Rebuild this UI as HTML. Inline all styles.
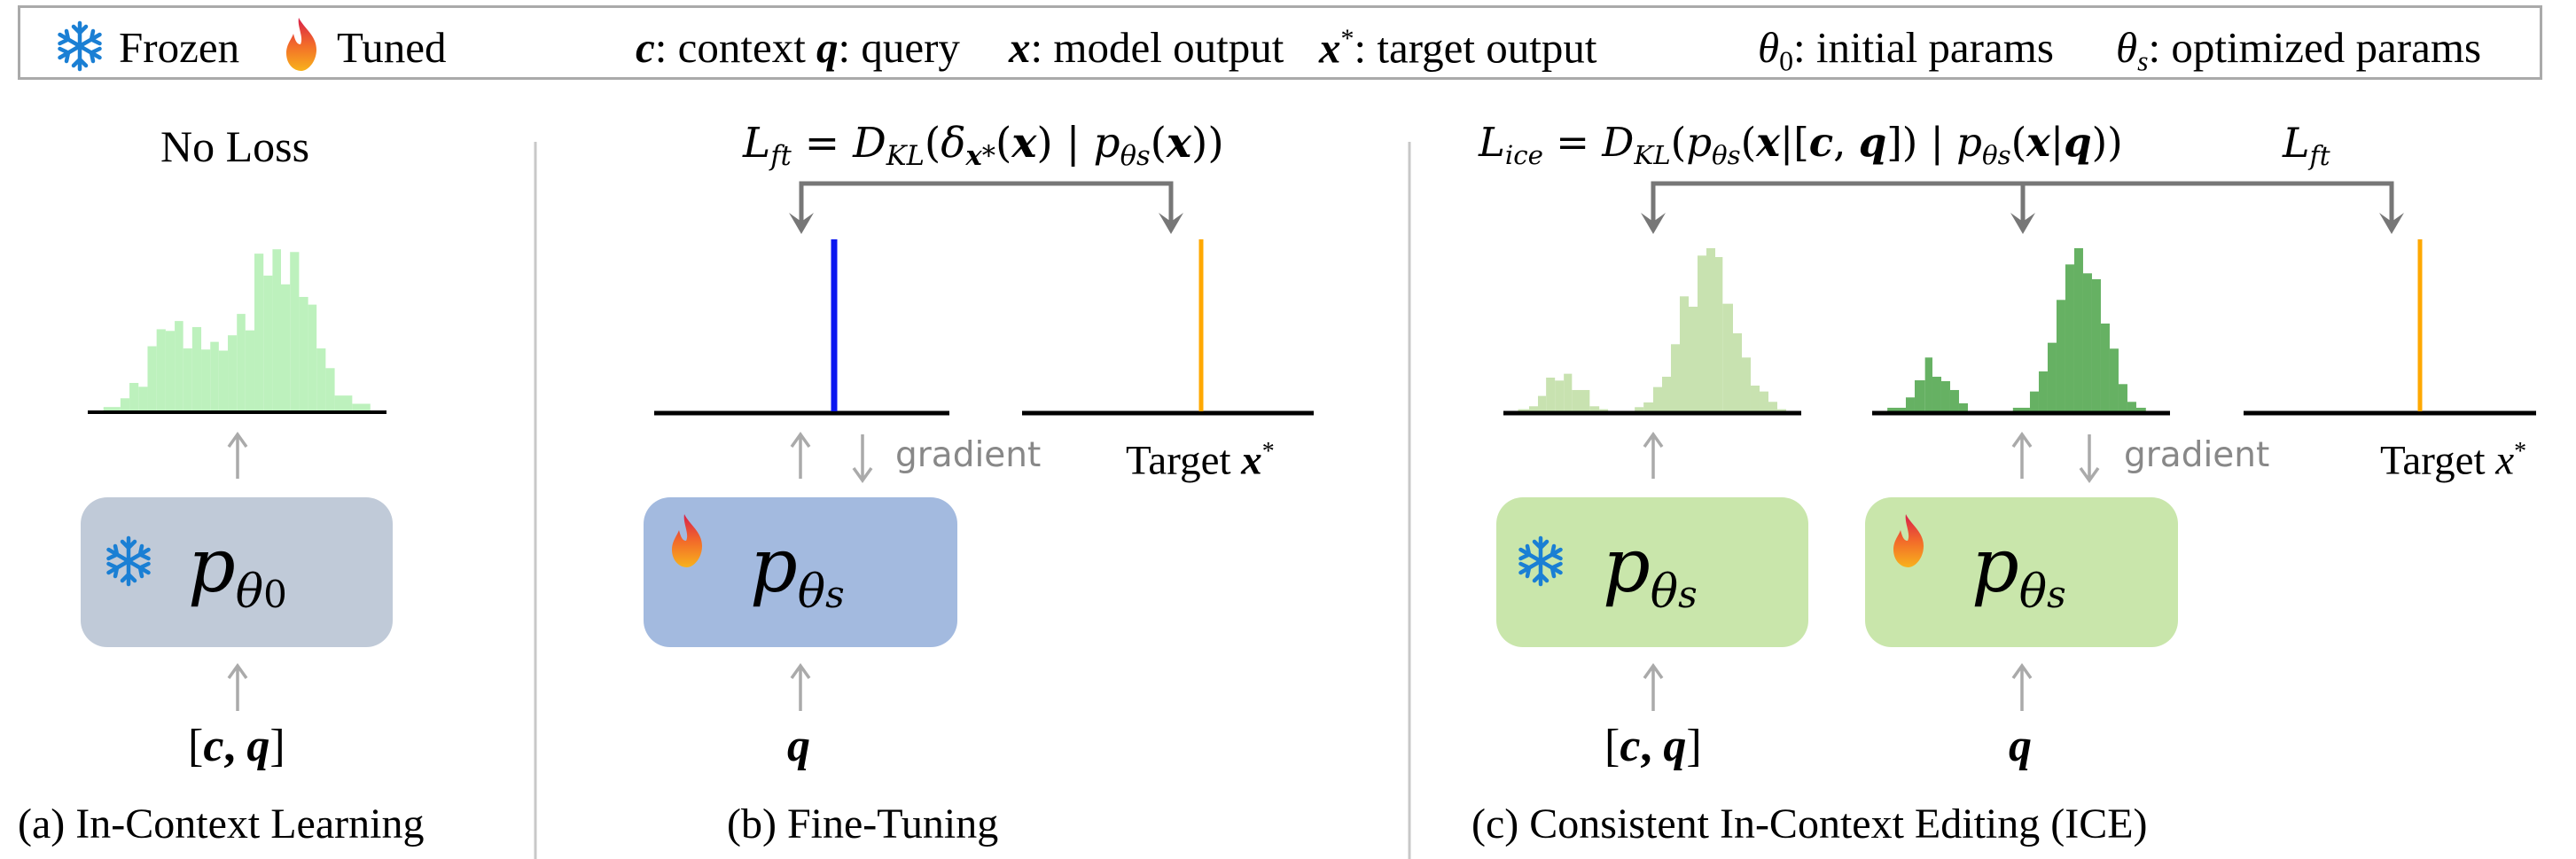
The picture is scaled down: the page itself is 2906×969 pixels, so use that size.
<!DOCTYPE html>
<html><head><meta charset="utf-8"><style>
html,body{margin:0;padding:0;background:#fff}
body{width:2906px;height:969px;position:relative;overflow:hidden;font-family:"Liberation Serif",serif;color:#000}
.t{position:absolute;white-space:nowrap;font-size:44px;line-height:1}
i{font-style:italic}
.m{font-family:"DejaVu Serif","Liberation Serif",serif;font-style:italic}
.s{font-size:0.65em;vertical-align:-0.3em}
.g{font-family:"DejaVu Sans","Liberation Sans",sans-serif;color:#888;font-size:39px}
.box{position:absolute;border-radius:30px}
.L{font-size:49px;top:29px}
</style></head><body>
<div style="position:absolute;left:20px;top:6px;width:2848px;height:84px;border:3px solid #aaa;box-sizing:border-box"></div>

<svg width="2906" height="969" style="position:absolute;left:0;top:0">
<defs>
<linearGradient id="fl" x1="0" y1="1" x2="0" y2="0"><stop offset="0" stop-color="#f8b21c"/><stop offset="0.5" stop-color="#f26a2a"/><stop offset="1" stop-color="#d8204a"/></linearGradient>
<g id="flame"><path d="M14 0 C20 12 34 20 34 36 C34 50 24 60 17 60 C8 60 0 52 0 40 C0 30 6 24 8 18 C10 26 12 30 16 30 C20 22 12 10 14 0Z" fill="url(#fl)"/></g>
<g id="snow" stroke="#1a7fd4" stroke-width="4.5" fill="none" stroke-linecap="round">
<line x1="0" y1="-26" x2="0" y2="26"/><line x1="-22.5" y1="-13" x2="22.5" y2="13"/><line x1="-22.5" y1="13" x2="22.5" y2="-13"/>
<path d="M-7 -22 L0 -15 L7 -22 M-7 22 L0 15 L7 22"/>
<path d="M-22.5 -3 L-13 -7.5 L-15 -17 M22.5 3 L13 7.5 L15 17"/>
<path d="M-22.5 3 L-13 7.5 L-15 17 M22.5 -3 L13 -7.5 L15 -17"/>
</g>
</defs>

<use href="#snow" x="90" y="52"/>
<use href="#flame" x="323" y="20"/>

<line x1="604" y1="160" x2="604" y2="969" stroke="#c8c8c8" stroke-width="3"/>
<line x1="1590" y1="160" x2="1590" y2="969" stroke="#c8c8c8" stroke-width="3"/>

<g transform="matrix(0.6378,0,0,0.618,0,0)" fill="#bdf1bd">
<rect x="183" y="743" width="30" height="9"/><rect x="213" y="727" width="16" height="25"/><rect x="229" y="699" width="16" height="53"/><rect x="245" y="706" width="16" height="46"/><rect x="261" y="632" width="16" height="120"/><rect x="277" y="601" width="16" height="151"/><rect x="293" y="604" width="16" height="148"/><rect x="309" y="586" width="15" height="166"/><rect x="324" y="636" width="16" height="116"/><rect x="340" y="597" width="16" height="155"/><rect x="356" y="638" width="16" height="114"/><rect x="372" y="624" width="15" height="128"/><rect x="387" y="640" width="16" height="112"/><rect x="403" y="612" width="16" height="140"/><rect x="419" y="573" width="15" height="179"/><rect x="434" y="603" width="16" height="149"/><rect x="450" y="463" width="16" height="289"/><rect x="466" y="503" width="16" height="249"/><rect x="482" y="455" width="15" height="297"/><rect x="497" y="519" width="16" height="233"/><rect x="513" y="460" width="16" height="292"/><rect x="529" y="542" width="16" height="210"/><rect x="545" y="556" width="15" height="196"/><rect x="560" y="636" width="16" height="116"/><rect x="576" y="672" width="16" height="80"/><rect x="592" y="722" width="31" height="30"/><rect x="623" y="737" width="32" height="15"/>
</g>
<line x1="99" y1="465" x2="436" y2="465" stroke="#000" stroke-width="4"/>

<g transform="matrix(0.8333,0,0,0.3333,1600,100)" fill="#c8e2b0">
<rect x="135" y="1085" width="15" height="10"/><rect x="150" y="1075" width="12" height="20"/><rect x="162" y="1040" width="11" height="55"/><rect x="173" y="978" width="12" height="117"/><rect x="185" y="988" width="12" height="107"/><rect x="197" y="965" width="11" height="130"/><rect x="208" y="1020" width="24" height="75"/><rect x="232" y="1075" width="13" height="20"/><rect x="245" y="1085" width="12" height="10"/>
<rect x="293" y="1078" width="12" height="17"/><rect x="305" y="1062" width="13" height="33"/><rect x="318" y="1010" width="12" height="85"/><rect x="330" y="975" width="12" height="120"/><rect x="342" y="865" width="12" height="230"/><rect x="354" y="703" width="12" height="392"/><rect x="366" y="738" width="12" height="357"/><rect x="378" y="565" width="12" height="530"/><rect x="390" y="540" width="12" height="555"/><rect x="402" y="570" width="10" height="525"/><rect x="412" y="728" width="14" height="367"/><rect x="426" y="828" width="12" height="267"/><rect x="438" y="910" width="12" height="185"/><rect x="450" y="1005" width="12" height="90"/><rect x="462" y="1025" width="12" height="70"/><rect x="474" y="1060" width="12" height="35"/><rect x="486" y="1085" width="12" height="10"/>
</g>
<g transform="matrix(0.8333,0,0,0.3333,1600,100)" fill="#66b163">
<rect x="635" y="1080" width="25" height="15"/><rect x="660" y="1045" width="12" height="50"/><rect x="672" y="987" width="14" height="108"/><rect x="686" y="910" width="10" height="185"/><rect x="696" y="975" width="12" height="120"/><rect x="708" y="990" width="12" height="105"/><rect x="720" y="1020" width="12" height="75"/><rect x="732" y="1065" width="12" height="30"/>
<rect x="805" y="1080" width="23" height="15"/><rect x="828" y="1025" width="12" height="70"/><rect x="840" y="957" width="12" height="138"/><rect x="852" y="860" width="12" height="235"/><rect x="864" y="715" width="12" height="380"/><rect x="876" y="595" width="12" height="500"/><rect x="888" y="540" width="12" height="555"/><rect x="900" y="625" width="12" height="470"/><rect x="912" y="645" width="12" height="450"/><rect x="924" y="795" width="12" height="300"/><rect x="936" y="880" width="12" height="215"/><rect x="948" y="1000" width="12" height="95"/><rect x="960" y="1060" width="12" height="35"/><rect x="972" y="1080" width="13" height="15"/>
</g>

<g stroke="#000" stroke-width="5">
<line x1="738" y1="466" x2="1071" y2="466"/><line x1="1153" y1="466" x2="1482" y2="466"/>
<line x1="1696" y1="466" x2="2032" y2="466"/><line x1="2112" y1="466" x2="2448" y2="466"/><line x1="2531" y1="466" x2="2861" y2="466"/>
</g>
<line x1="941" y1="270" x2="941" y2="464" stroke="#0a16f0" stroke-width="7"/>
<line x1="1355" y1="270" x2="1355" y2="464" stroke="#ffa800" stroke-width="5"/>
<line x1="2730" y1="270" x2="2730" y2="464" stroke="#ffa800" stroke-width="5"/>

<g stroke="#777" stroke-width="5" fill="none">
<path d="M904 258 V207 H1321 V258"/>
<path d="M1865 258 V207 H2698 V258 M2282 207 V258"/>
</g>
<g fill="#777">
<path d="M890 240 L904 264 L918 240 L904 250Z"/><path d="M1307 240 L1321 264 L1335 240 L1321 250Z"/>
<path d="M1851 240 L1865 264 L1879 240 L1865 250Z"/><path d="M2268 240 L2282 264 L2296 240 L2282 250Z"/><path d="M2684 240 L2698 264 L2712 240 L2698 250Z"/>
</g>

<g stroke="#aaa" stroke-width="3.5" fill="none">
<path d="M268 540 V492 M258 504 L268 490 L278 504"/>
<path d="M268 802 V753 M258 765 L268 751 L278 765"/>
<path d="M903 540 V492 M893 504 L903 490 L913 504"/>
<path d="M903 802 V753 M893 765 L903 751 L913 765"/>
<path d="M973 490 V540 M963 528 L973 542 L983 528"/>
<path d="M1865 540 V492 M1855 504 L1865 490 L1875 504"/>
<path d="M1865 802 V753 M1855 765 L1865 751 L1875 765"/>
<path d="M2281 540 V492 M2271 504 L2281 490 L2291 504"/>
<path d="M2281 802 V753 M2271 765 L2281 751 L2291 765"/>
<path d="M2357 490 V540 M2347 528 L2357 542 L2367 528"/>
</g>
</svg>

<div class="box" style="left:91px;top:561px;width:352px;height:169px;background:#c0cad8"></div>
<div class="box" style="left:726px;top:561px;width:354px;height:169px;background:#a3badf"></div>
<div class="box" style="left:1688px;top:561px;width:352px;height:169px;background:#c9e6ab"></div>
<div class="box" style="left:2104px;top:561px;width:353px;height:169px;background:#c9e6ab"></div>
<svg width="2906" height="969" style="position:absolute;left:0;top:0">
<defs>
<linearGradient id="fl2" x1="0" y1="1" x2="0" y2="0"><stop offset="0" stop-color="#f8b21c"/><stop offset="0.5" stop-color="#f26a2a"/><stop offset="1" stop-color="#d8204a"/></linearGradient>
<g id="sn2" stroke="#1a7fd4" stroke-width="4.5" fill="none" stroke-linecap="round">
<line x1="0" y1="-26" x2="0" y2="26"/><line x1="-22.5" y1="-13" x2="22.5" y2="13"/><line x1="-22.5" y1="13" x2="22.5" y2="-13"/>
<path d="M-7 -22 L0 -15 L7 -22 M-7 22 L0 15 L7 22"/>
<path d="M-22.5 -3 L-13 -7.5 L-15 -17 M22.5 3 L13 7.5 L15 17"/>
<path d="M-22.5 3 L-13 7.5 L-15 17 M22.5 -3 L13 -7.5 L15 -17"/>
</g>
<path id="fl3" d="M14 0 C20 12 34 20 34 36 C34 50 24 60 17 60 C8 60 0 52 0 40 C0 30 6 24 8 18 C10 26 12 30 16 30 C20 22 12 10 14 0Z" fill="url(#fl2)"/>
</defs>
<use href="#sn2" x="145" y="633"/>
<use href="#sn2" x="1738" y="633"/>
<use href="#fl3" x="758" y="580"/>
<use href="#fl3" x="2136" y="580"/>
</svg>

<div class="t L" style="left:134px">Frozen</div>
<div class="t L" style="left:380px">Tuned</div>
<div class="t L" style="left:717px"><b><i>c</i></b>: context</div>
<div class="t L" style="left:921px"><b><i>q</i></b>: query</div>
<div class="t L" style="left:1138px"><b><i>x</i></b>: model output</div>
<div class="t L" style="left:1488px"><b><i>x</i></b><sup style="font-size:30px">*</sup>: target output</div>
<div class="t L" style="left:1983px"><i>θ</i><span class="s">0</span>: initial params</div>
<div class="t L" style="left:2387px"><i>θ<span class="s">s</span></i>: optimized params</div>

<div class="t" style="left:181px;top:140px;font-size:50px">No Loss</div>
<div class="t m" style="left:212px;top:596px;font-size:84px">p<span style="font-size:52px;vertical-align:-0.35em">θ<span style="font-style:normal;font-size:42px">0</span></span></div>
<div class="t" style="left:212px;top:816px;font-size:52px">[<b><i>c</i>, <i>q</i></b>]</div>
<div class="t" style="left:20px;top:906px;font-size:48px">(a) In-Context Learning</div>

<div class="t m" style="left:838px;top:138px;font-size:47px">L<span class="s">ft</span> <span style="font-style:normal">=</span> D<span class="s">KL</span><span style="font-style:normal">(</span>δ<span class="s"><b>x</b>*</span><span style="font-style:normal">(</span><b>x</b><span style="font-style:normal">) | </span>p<span class="s">θs</span><span style="font-style:normal">(</span><b>x</b><span style="font-style:normal">))</span></div>
<div class="t g" style="left:1010px;top:494px">gradient</div>
<div class="t" style="left:1270px;top:496px;font-size:47px">Target <b><i>x</i></b><sup style="font-size:28px">*</sup></div>
<div class="t m" style="left:846px;top:596px;font-size:84px">p<span style="font-size:52px;vertical-align:-0.35em">θ<span style="font-size:42px">s</span></span></div>
<div class="t" style="left:888px;top:816px;font-size:52px"><b><i>q</i></b></div>
<div class="t" style="left:820px;top:906px;font-size:48px">(b) Fine-Tuning</div>

<div class="t m" style="left:1668px;top:138px;font-size:45px">L<span class="s">ice</span> <span style="font-style:normal">=</span> D<span class="s">KL</span><span style="font-style:normal">(</span>p<span class="s">θs</span><span style="font-style:normal">(</span><b>x</b><span style="font-style:normal">|[</span><b>c</b><span style="font-style:normal">, </span><b>q</b><span style="font-style:normal">]) | </span>p<span class="s">θs</span><span style="font-style:normal">(</span><b>x</b><span style="font-style:normal">|</span><b>q</b><span style="font-style:normal">))</span></div>
<div class="t m" style="left:2575px;top:138px;font-size:46px">L<span class="s">ft</span></div>
<div class="t g" style="left:2396px;top:494px">gradient</div>
<div class="t" style="left:2685px;top:496px;font-size:47px">Target <i>x</i><sup style="font-size:28px">*</sup></div>
<div class="t m" style="left:1808px;top:596px;font-size:84px">p<span style="font-size:52px;vertical-align:-0.35em">θ<span style="font-size:42px">s</span></span></div>
<div class="t m" style="left:2224px;top:596px;font-size:84px">p<span style="font-size:52px;vertical-align:-0.35em">θ<span style="font-size:42px">s</span></span></div>
<div class="t" style="left:1810px;top:816px;font-size:52px">[<b><i>c</i>, <i>q</i></b>]</div>
<div class="t" style="left:2266px;top:816px;font-size:52px"><b><i>q</i></b></div>
<div class="t" style="left:1660px;top:906px;font-size:48px">(c) Consistent In-Context Editing (ICE)</div>
</body></html>
